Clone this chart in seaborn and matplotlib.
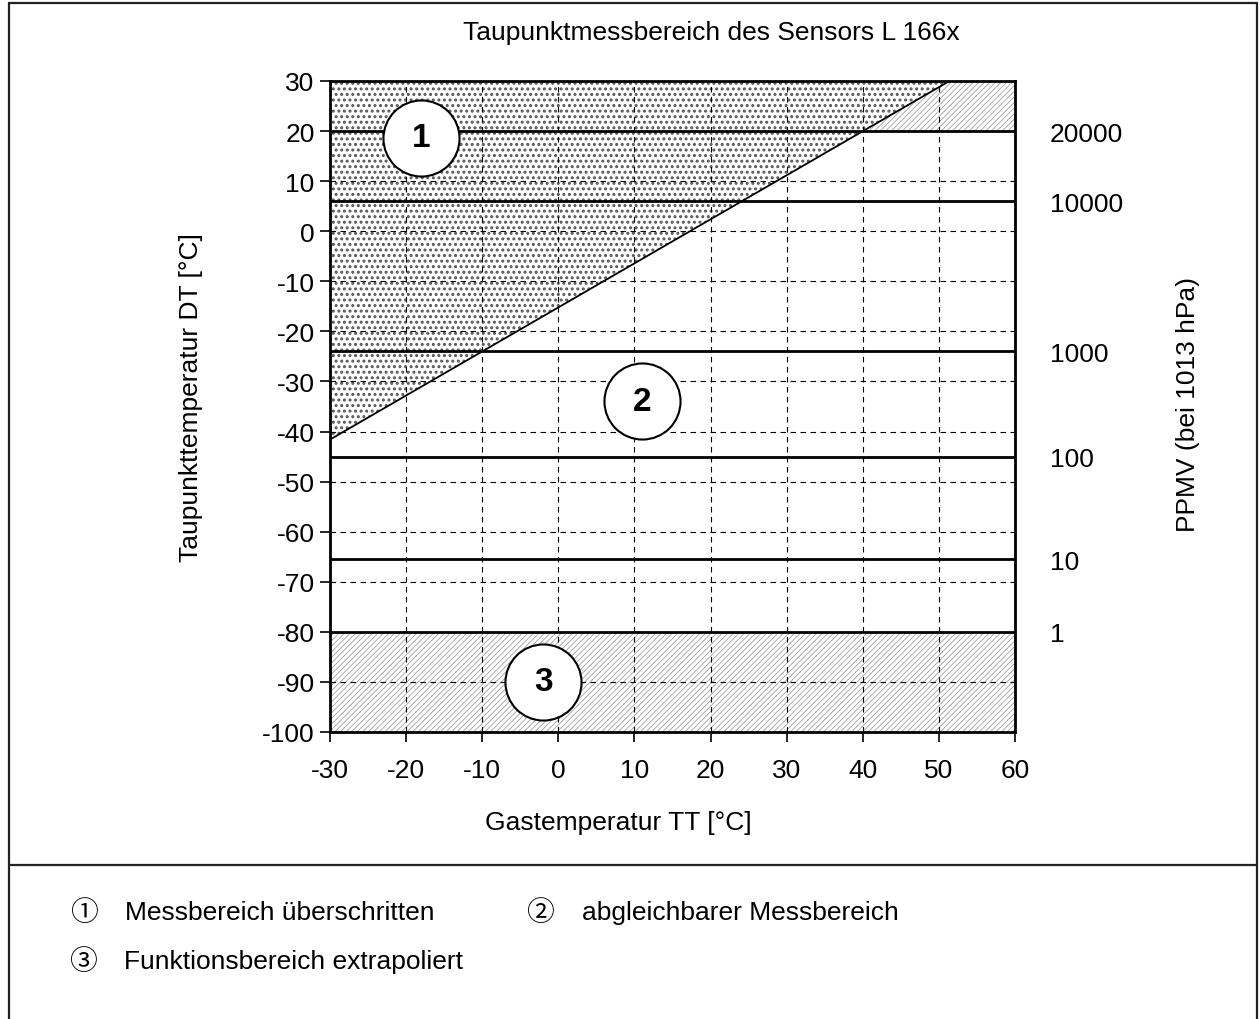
import matplotlib
matplotlib.use("Agg")
import matplotlib.pyplot as plt
import seaborn as sns
import pandas as pd
from matplotlib.lines import Line2D

# ---------------- data ----------------
title = "Taupunktmessbereich des Sensors L 166x"
xlabel = "Gastemperatur TT [°C]"
ylabel = "Taupunkttemperatur DT [°C]"
ylabel_right = "PPMV (bei 1013 hPa)"

x_ticks = [-30, -20, -10, 0, 10, 20, 30, 40, 50, 60]
y_ticks = [30, 20, 10, 0, -10, -20, -30, -40, -50, -60, -70, -80, -90, -100]

# PPMV lines (dew point at which each ppmv value lies)
ppmv_labels = ["20000", "10000", "1000", "100", "10", "1"]
ppmv_dt = [20, 6, -24, -45, -65.5, -80]

# diagonal limit line (gas temperature vs. dew point)
diag_tt = [-30, 51.4]
diag_dt = [-41.6, 30]

# hatched region top right (between diagonal and 20 °C line)
top_tt = [40, 51.4, 60]
top_upper = [20, 30, 30]

# extrapolated region
low_tt = [-30, 60]
low_lower = -100
low_upper = -80

# numbered circles
circle_tt = [-18, 11, -2]
circle_dt = [18.7, -34, -90]
circle_lbl = ["1", "2", "3"]

legend_items = [("①", "Messbereich überschritten"),
                ("②", "abgleichbarer Messbereich"),
                ("③", "Funktionsbereich extrapoliert")]

# ---------------- style ----------------
sns.set_theme(style="ticks")
plt.rcParams['font.family'] = ['Liberation Sans', 'DejaVu Sans', 'Noto Sans CJK JP']
plt.rcParams['axes.unicode_minus'] = False
plt.rcParams['text.color'] = 'black'
plt.rcParams['axes.labelcolor'] = 'black'
plt.rcParams['xtick.color'] = 'black'
plt.rcParams['ytick.color'] = 'black'
FS = 19

fig = plt.figure(figsize=(12.6, 10.2), dpi=100)
ax = fig.add_axes([330/1260, 1-733/1020, 685/1260, 651/1020])

# dotted region (Messbereich überschritten)
with plt.rc_context({'hatch.linewidth': 1.4}):
    ax.fill_between(diag_tt, diag_dt, 30, facecolor='white', edgecolor='#555555',
                    hatch='...', linewidth=0, zorder=1)
with plt.rc_context({'hatch.linewidth': 0.6}):
    ax.fill_between(top_tt, 20, top_upper, facecolor='white', edgecolor='#a0a0a0',
                    hatch='//////', linewidth=0, zorder=1)
    ax.fill_between(low_tt, low_lower, low_upper, facecolor='white', edgecolor='#a0a0a0',
                    hatch='//////', linewidth=0, zorder=1)

# diagonal line
sns.lineplot(x=diag_tt, y=diag_dt, ax=ax, color='black', linewidth=1.3, zorder=4)

# ppmv lines
for v in ppmv_dt:
    ax.axhline(v, color='black', linewidth=2.0, zorder=4)

# circles
cdf = pd.DataFrame({"tt": circle_tt, "dt": circle_dt})
sns.scatterplot(data=cdf, x="tt", y="dt", ax=ax, s=3000, color='white',
                edgecolor='black', linewidth=1.5, zorder=6, legend=False)
for tx, ty, lb in zip(circle_tt, circle_dt, circle_lbl):
    ax.text(tx, ty, lb, ha='center', va='center', fontsize=24, fontweight='bold',
            zorder=7)

ax.set_xlim(-30, 60)
ax.set_ylim(-100, 30)
ax.set_xticks(x_ticks)
ax.set_yticks(y_ticks)
ax.set_xticklabels([str(v) for v in x_ticks])
ax.set_yticklabels([str(v) for v in y_ticks])
ax.tick_params(axis='x', labelsize=FS, length=7, width=1.2, pad=12, color='black')
ax.tick_params(axis='y', labelsize=FS, length=7, width=1.2, pad=4, color='black')
ax.grid(True, color='black', linestyle=(0, (5, 4)), linewidth=0.8)
ax.set_axisbelow(False)
for sp in ax.spines.values():
    sp.set_linewidth(2.0)
    sp.set_color('black')
    sp.set_zorder(8)

ax.set_xlabel(xlabel, fontsize=FS)
ax.xaxis.set_label_coords((618-330)/685, (733-811)/651)
ax.set_ylabel(ylabel, fontsize=FS)
ax.yaxis.set_label_coords((203-330)/685, (733-398)/651)

ax2 = ax.twinx()
ax2.set_ylim(-100, 30)
ax2.set_yticks(ppmv_dt)
ax2.set_yticklabels(ppmv_labels)
ax2.tick_params(axis='y', length=0, labelsize=FS, pad=25)
for sp in ax2.spines.values():
    sp.set_visible(False)
ax2.set_ylabel(ylabel_right, fontsize=FS)
ax2.yaxis.set_label_coords((1176-330)/685, (733-405)/651)

fig.text(711/1260, 1-33/1020, title, ha='center', va='center', fontsize=FS)

# frame
fc = '#222222'
fig.add_artist(Line2D([9/1260, 1257/1260], [1-4/1020, 1-4/1020], color=fc, linewidth=1.6))
fig.add_artist(Line2D([9/1260, 9/1260], [0, 1-4/1020], color=fc, linewidth=1.6))
fig.add_artist(Line2D([1257/1260, 1257/1260], [0, 1-4/1020], color=fc, linewidth=1.6))
fig.add_artist(Line2D([9/1260, 1257/1260], [1-866/1020, 1-866/1020], color=fc, linewidth=1.6))

# legend
pos = [(84, 125, 913), (540, 582, 913), (83, 124, 962)]
for (sym, txt), (xs, xt, yy) in zip(legend_items, pos):
    fig.text(xs/1260, 1-yy/1020, sym, ha='center', va='center', fontsize=20,
             family=['Noto Sans CJK JP', 'DejaVu Sans'])
    fig.text(xt/1260, 1-yy/1020, txt, ha='left', va='center', fontsize=FS)

fig.savefig("out.png", dpi=100)
